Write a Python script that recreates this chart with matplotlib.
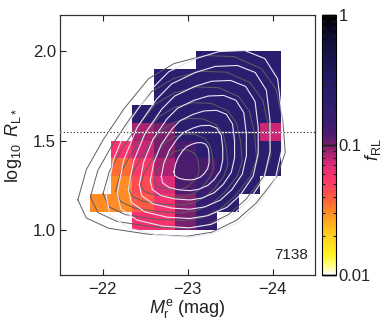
import numpy as np
import matplotlib
matplotlib.use('Agg')
import matplotlib.pyplot as plt
from matplotlib.colors import LinearSegmentedColormap, LogNorm
from matplotlib.ticker import LogLocator, NullFormatter

plt.rcParams['font.family'] = ['Liberation Sans', 'DejaVu Sans']
plt.rcParams['mathtext.fontset'] = 'custom'
plt.rcParams['mathtext.rm'] = 'Liberation Sans'
plt.rcParams['mathtext.it'] = 'Liberation Sans:italic'

# ---------------- data ----------------
mag_edges = [-21.85, -22.10, -22.35, -22.60, -22.85, -23.10, -23.35, -23.60, -23.85, -24.10]
logr_edges = [1.0, 1.1, 1.2, 1.3, 1.4, 1.5, 1.6, 1.7, 1.8, 1.9, 2.0]
nan = np.nan
# radio-loud fraction per bin, rows from log R = 1.0 (bottom) to 2.0 (top)
f_rl = [
    [nan, nan, 0.060, 0.058, 0.100, 0.160, nan, nan, nan],
    [0.030, 0.030, 0.040, 0.058, 0.095, 0.180, 0.220, nan, nan],
    [nan, 0.030, 0.046, 0.070, 0.120, 0.150, 0.220, 0.220, nan],
    [nan, 0.036, 0.055, 0.085, 0.120, 0.130, 0.220, 0.220, 0.220],
    [nan, 0.058, 0.075, 0.100, 0.130, 0.220, 0.220, 0.220, 0.220],
    [nan, nan, 0.085, 0.100, 0.220, 0.220, 0.220, 0.220, 0.075],
    [nan, nan, 0.220, 0.220, 0.220, 0.220, 0.220, 0.220, 0.220],
    [nan, nan, nan, 0.220, 0.220, 0.220, 0.220, 0.220, 0.220],
    [nan, nan, nan, 0.220, 0.220, 0.220, 0.220, 0.220, 0.220],
    [nan, nan, nan, nan, nan, 0.220, 0.220, 0.220, 0.220],
]
n_gal = "7138"
threshold_logr = 1.55

# density contours: outer contour, centre, and nested scales
gray_outer_mag = [-21.71, -21.81, -22.07, -22.54, -22.99, -23.29, -23.58, -23.81, -24.05, -24.15,
                  -24.12, -24.04, -23.87, -23.55, -23.20, -22.84, -22.54, -22.25, -22.01, -21.81]
gray_outer_logr = [1.169, 1.068, 1.011, 0.977, 0.966, 0.989, 1.056, 1.152, 1.298, 1.433,
                   1.619, 1.788, 1.900, 1.968, 1.974, 1.929, 1.844, 1.675, 1.506, 1.338]
gray_center = (-22.85, 1.30)
gray_scales = [1.0, 0.87, 0.74, 0.61, 0.48, 0.35, 0.22]

white_outer_mag = [-22.045, -22.09, -22.31, -22.66, -23.02, -23.31, -23.61, -23.83, -24.03, -24.11,
                   -24.11, -24.06, -23.91, -23.67, -23.37, -23.10, -22.78, -22.58, -22.31, -22.13]
white_outer_logr = [1.186, 1.084, 1.011, 0.972, 0.961, 0.983, 1.045, 1.141, 1.281, 1.450,
                    1.647, 1.844, 1.957, 2.002, 1.996, 1.957, 1.884, 1.788, 1.602, 1.394]
white_center = (-23.04, 1.36)
white_scales = [1.0, 0.87, 0.74, 0.61, 0.48, 0.35, 0.20]

# colour map (position in log scale 0.01 -> 1)
cmap_pos = [0.0, 0.04, 0.08, 0.15, 0.20, 0.239, 0.278, 0.327, 0.382, 0.429, 0.465, 0.50,
            0.54, 0.588, 0.671, 0.80, 0.92, 1.0]
cmap_col = ['#ffffff', '#ffff70', '#fff020', '#ffd020', '#ffac20', '#ff8c25', '#ff6a35',
            '#ff4a55', '#f8326e', '#d82a78', '#a8236f', '#7a1f6e', '#4e1c6c', '#3a1d70',
            '#2b1e6f', '#1e1858', '#0e0c30', '#000000']
cmap = LinearSegmentedColormap.from_list('frl', list(zip(cmap_pos, cmap_col)))
norm = LogNorm(vmin=0.01, vmax=1.0)

# ---------------- figure ----------------
W, H = 386, 321
fig = plt.figure(figsize=(W / 100, H / 100), dpi=100)
ax = fig.add_axes([60 / W, 46 / H, 255 / W, 260 / H])
cax = fig.add_axes([322 / W, 46 / H, 14 / W, 260 / H])

mesh = ax.pcolormesh(mag_edges, logr_edges, np.ma.masked_invalid(np.array(f_rl)),
                     cmap=cmap, norm=norm, shading='flat', antialiased=False,
                     edgecolors='none', zorder=1)

for (om, orr, cen, scales, col, lw) in [
        (gray_outer_mag, gray_outer_logr, gray_center, gray_scales, '#5e5e5e', 0.7),
        (white_outer_mag, white_outer_logr, white_center, white_scales, '#ece4f6', 0.8)]:
    om = np.array(om + om[:1])
    orr = np.array(orr + orr[:1])
    for s in scales:
        ax.plot(cen[0] + s * (om - cen[0]), cen[1] + s * (orr - cen[1]),
                color=col, lw=lw, zorder=3)

ax.axhline(threshold_logr, color='white', lw=0.9, zorder=4)
ax.axhline(threshold_logr, color='#222222', lw=0.8, ls=(0, (1, 2)), zorder=5)

ax.text(0.972, 0.06, n_gal, transform=ax.transAxes, ha='right', va='baseline',
        fontsize=11, color='#222222')

ax.set_xlim(-21.5, -24.5)
ax.set_ylim(0.75, 2.2)
ax.set_xticks([-22, -23, -24])
ax.set_xticklabels(['\u221222', '\u221223', '\u221224'])
ax.set_yticks([1.0, 1.5, 2.0])
ax.set_yticklabels(['1.0', '1.5', '2.0'])
ax.tick_params(direction='in', top=True, right=False, length=4, width=0.8,
               labelsize=12, colors='#222222')
ax.tick_params(axis='y', pad=3)
ax.tick_params(axis='x', pad=5)
for sp in ax.spines.values():
    sp.set_linewidth(0.9)
    sp.set_color('#333333')

ax.set_xlabel(r'$M_{\rm r}^{\rm e}$ (mag)', fontsize=13, labelpad=0, color='#222222')
ax.set_ylabel(r'$\log_{10}\ R_{\rm L*}$', fontsize=13, labelpad=6, color='#222222')

cb = fig.colorbar(mesh, cax=cax, ticks=[0.01, 0.1, 1])
cb.ax.set_yticklabels(['0.01', '0.1', '1'])
cb.ax.yaxis.set_minor_locator(LogLocator(base=10, subs=np.arange(2, 10)))
cb.ax.yaxis.set_minor_formatter(NullFormatter())
cb.ax.tick_params(which='major', direction='in', left=True, right=True, length=10,
                  width=1.0, labelsize=12, pad=2, colors='#222222')
cb.ax.tick_params(which='minor', direction='in', left=True, right=True, length=2.2,
                  width=0.8, colors='#222222')
cb.outline.set_linewidth(0.8)
fig.text(373 / W, 1 - 150 / H, r'$f_{\rm RL}$', rotation=90, ha='center', va='center',
         fontsize=13, color='#222222')

fig.savefig('out.png', dpi=100)
